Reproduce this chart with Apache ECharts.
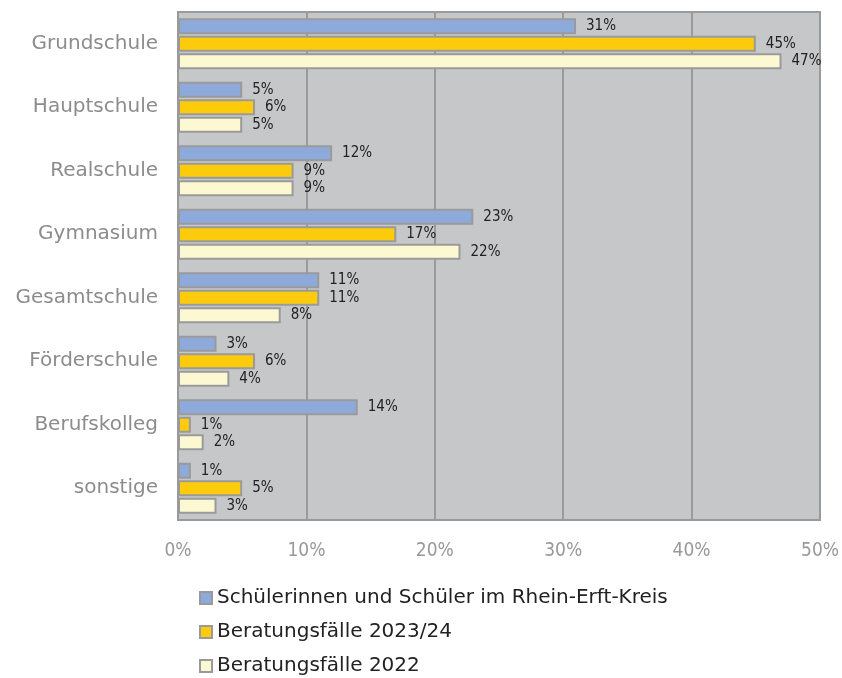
<!DOCTYPE html>
<html>
<head>
<meta charset="utf-8">
<script src="https://cdn.jsdelivr.net/npm/echarts@6/dist/echarts.min.js"></script>
<style>
  html, body { margin: 0; padding: 0; background: #fff; }
  #chart { width: 842px; height: 678px; }
</style>
</head>
<body>
<div id="chart"></div>
<script>
const categories = ['Grundschule', 'Hauptschule', 'Realschule', 'Gymnasium', 'Gesamtschule', 'Förderschule', 'Berufskolleg', 'sonstige']
const seriesNames = ['Schülerinnen und Schüler im Rhein-Erft-Kreis', 'Beratungsfälle 2023/24', 'Beratungsfälle 2022']
const schueler = [31, 5, 12, 23, 11, 3, 14, 1]
const faelle2324 = [45, 6, 9, 17, 11, 6, 1, 5]
const faelle2022 = [47, 5, 9, 22, 8, 4, 2, 3]
const colors = ['#8eaadb', '#fccc0c', '#fcf9d2']

const font = 'DejaVu Sans'

const makeSeries = (name, data, color) => ({
  name: name,
  type: 'bar',
  data: data,
  barWidth: 16,
  barGap: '10%',
  itemStyle: {
    color: color,
    borderColor: '#9a9a9a',
    borderWidth: 2
  },
  label: {
    show: true,
    position: 'right',
    distance: 10,
    formatter: '{c}%',
    color: '#222',
    fontFamily: 'DejaVu Sans Condensed',
    fontSize: 15
  }
})

const chart = echarts.init(document.getElementById('chart'))
chart.setOption({
  animation: false,
  grid: {
    show: true,
    left: 178,
    right: 22,
    top: 12,
    bottom: 158,
    backgroundColor: '#c6c7c9',
    borderColor: '#9a9a9a',
    borderWidth: 2
  },
  legend: {
    orient: 'vertical',
    left: 199,
    top: 588,
    padding: 0,
    itemWidth: 12,
    itemHeight: 12,
    itemGap: 14,
    icon: 'rect',
    itemStyle: { borderColor: '#9a9a9a', borderWidth: 2 },
    textStyle: { fontFamily: font, fontSize: 20, color: '#222', padding: [0, 0, 0, 0] },
    data: seriesNames
  },
  xAxis: {
    type: 'value',
    min: 0,
    max: 50,
    interval: 10,
    axisLabel: {
      formatter: '{value}%',
      color: '#999999',
      fontFamily: 'DejaVu Sans Condensed',
      fontSize: 19,
      margin: 22
    },
    axisLine: { show: false },
    axisTick: { show: false },
    splitLine: { lineStyle: { color: '#9a9a9a', width: 2 } }
  },
  yAxis: {
    type: 'category',
    data: categories,
    inverse: true,
    axisLabel: {
      color: '#8c8c8c',
      fontFamily: font,
      fontSize: 20,
      margin: 20
    },
    axisLine: { show: false },
    axisTick: { show: false }
  },
  series: [
    makeSeries(seriesNames[0], schueler, colors[0]),
    makeSeries(seriesNames[1], faelle2324, colors[1]),
    makeSeries(seriesNames[2], faelle2022, colors[2])
  ]
})
</script>
</body>
</html>
